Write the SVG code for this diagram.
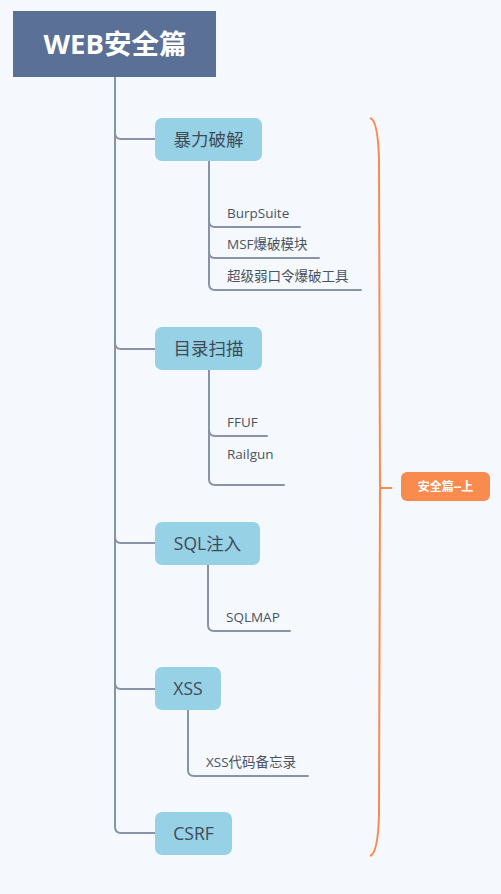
<svg xmlns="http://www.w3.org/2000/svg" width="501" height="894" viewBox="0 0 501 894">
<style>
.bg{fill:#f5f9fd}
.ln{fill:none;stroke:#8a93a6;stroke-width:2;stroke-linecap:round}
.nd{fill:#96d1e6}
.nt{font-family:"Open Sans","Noto Sans CJK SC",sans-serif;font-size:17.5px;fill:#3f4a58;text-anchor:middle}
.st{font-family:"Open Sans","Noto Sans CJK SC",sans-serif;font-size:13.5px;fill:#4a5361}
.br{fill:none;stroke:#f98b4e;stroke-width:2}
</style>
<rect class="bg" x="0" y="0" width="501" height="894"/>
<g id="connectors">
<path class="ln" d="M115,77 V827 Q115,833 121,833 H155"/>
<path class="ln" d="M115,133 Q115,139 121,139 H155"/>
<path class="ln" d="M115,343 Q115,349 121,349 H155"/>
<path class="ln" d="M115,537 Q115,543 121,543 H155"/>
<path class="ln" d="M115,683 Q115,689 121,689 H155"/>
<path class="ln" d="M209,161 V284 Q209,290 215,290 H361"/>
<path class="ln" d="M209,221 Q209,227 215,227 H300"/>
<path class="ln" d="M209,252 Q209,258 215,258 H319"/>
<path class="ln" d="M209,370 V479 Q209,485 215,485 H284"/>
<path class="ln" d="M209,430 Q209,436 215,436 H267"/>
<path class="ln" d="M208,565 V625 Q208,631 214,631 H290"/>
<path class="ln" d="M188,710 V770 Q188,776 194,776 H308"/>
</g>
<g id="root">
<rect x="13" y="11" width="203" height="66" fill="#5a7097"/>
<text x="115" y="54" font-family="'Open Sans','Noto Sans CJK SC',sans-serif" font-size="27.5" font-weight="bold" fill="#ffffff" text-anchor="middle">WEB安全篇</text>
</g>
<g id="n1">
<rect class="nd" x="155" y="118" width="107" height="43" rx="7"/>
<text class="nt" x="208.5" y="146">暴力破解</text>
</g>
<g id="n1a"><text class="st" x="227" y="218">BurpSuite</text></g>
<g id="n1b"><text class="st" x="227" y="249">MSF爆破模块</text></g>
<g id="n1c"><text class="st" x="227" y="281">超级弱口令爆破工具</text></g>
<g id="n2">
<rect class="nd" x="155" y="327" width="107" height="43" rx="7"/>
<text class="nt" x="208.5" y="355">目录扫描</text>
</g>
<g id="n2a"><text class="st" x="227" y="427">FFUF</text></g>
<g id="n2b"><text class="st" x="227" y="459">Railgun</text></g>
<g id="n3">
<rect class="nd" x="155" y="522" width="105" height="43" rx="7"/>
<text class="nt" x="207.5" y="550">SQL注入</text>
</g>
<g id="n3a"><text class="st" x="226" y="622">SQLMAP</text></g>
<g id="n4">
<rect class="nd" x="155" y="667" width="66" height="43" rx="7"/>
<text class="nt" x="188" y="695">XSS</text>
</g>
<g id="n4a"><text class="st" x="206" y="767">XSS代码备忘录</text></g>
<g id="n5">
<rect class="nd" x="155" y="812" width="77" height="43" rx="7"/>
<text class="nt" x="193.5" y="840">CSRF</text>
</g>
<g id="bracket">
<path class="br" d="M370,118 Q378,120 379,160 L380,488 L379,815 Q378,853 370,856"/>
<path class="br" d="M380,488 H392"/>
</g>
<g id="summary">
<rect x="401" y="472" width="89" height="29" rx="6" fill="#f98b4e"/>
<text x="445.5" y="491" font-family="'Open Sans','Noto Sans CJK SC',sans-serif" font-size="12" font-weight="bold" fill="#ffffff" text-anchor="middle">安全篇--上</text>
</g>
</svg>
